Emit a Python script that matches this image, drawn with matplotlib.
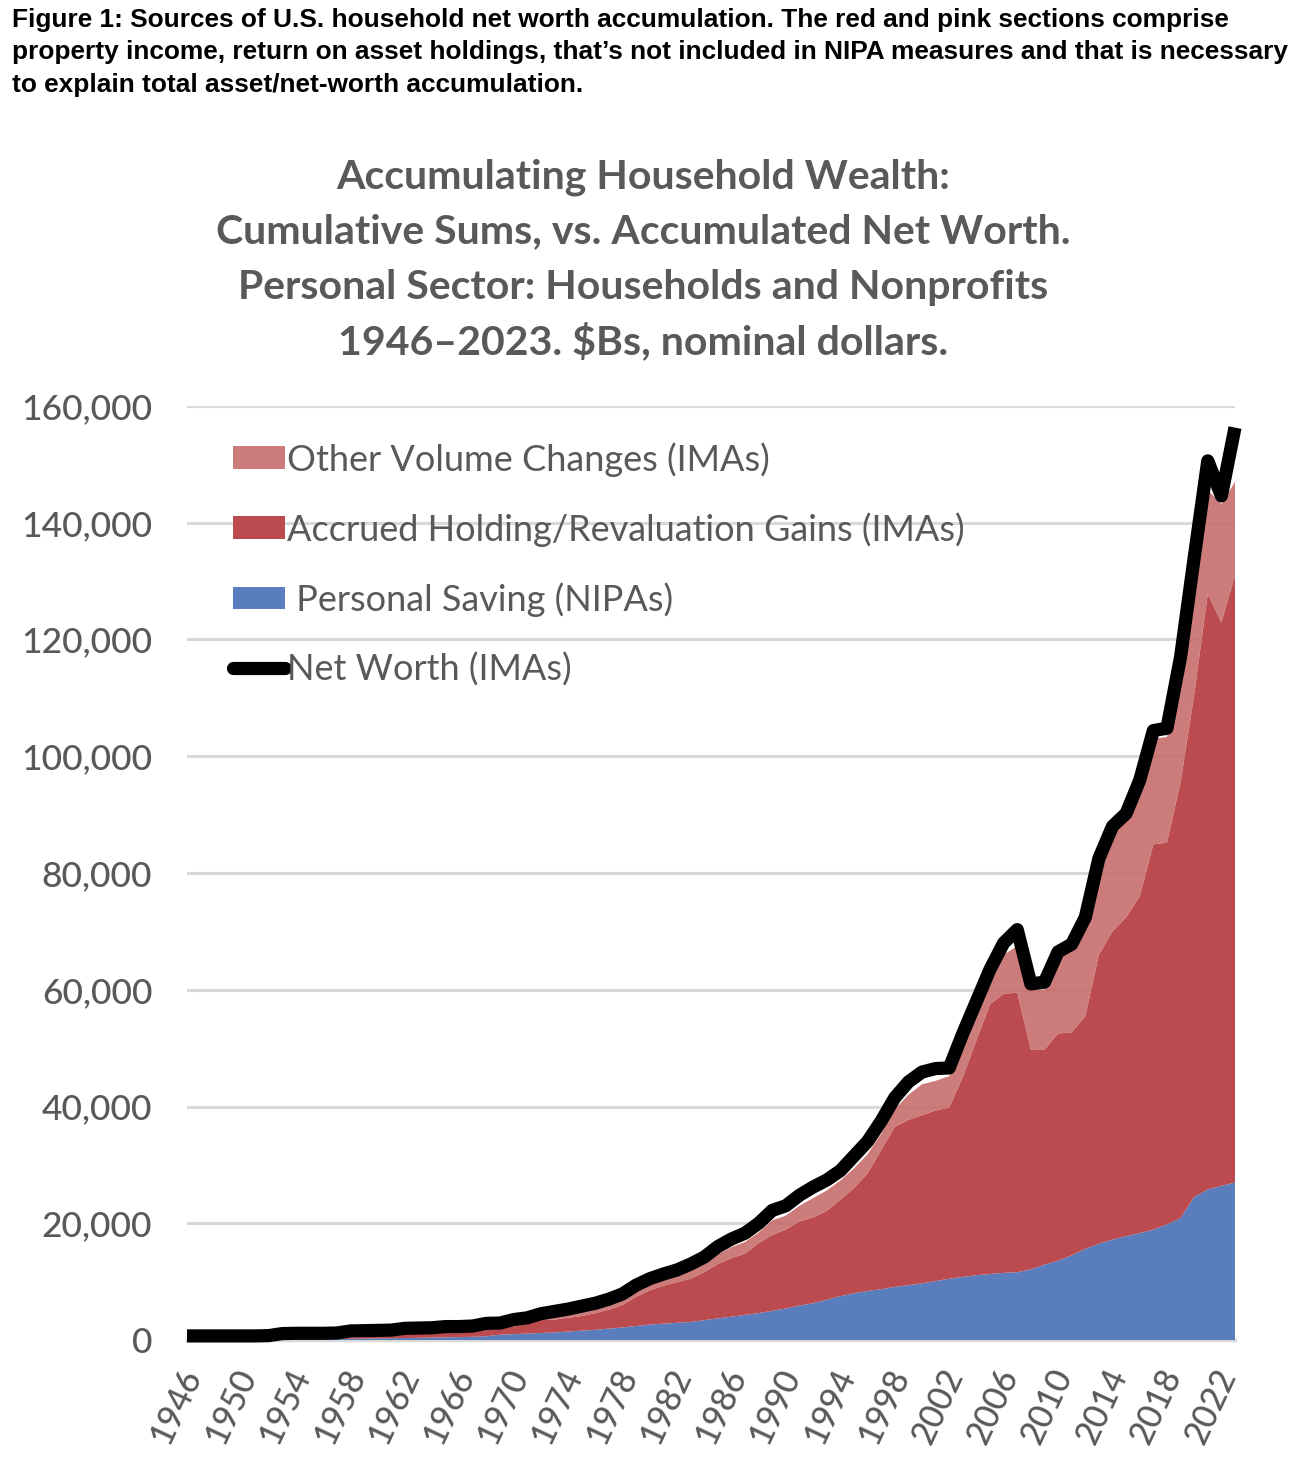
"""Accumulating household wealth: cumulative sums vs. accumulated net worth."""

import matplotlib

matplotlib.use("Agg")
import matplotlib.pyplot as plt
import matplotlib.transforms as mtransforms
from matplotlib.lines import Line2D
from matplotlib.patches import Patch


YEARS = list(range(1946, 2024))

# cumulative personal saving (NIPAs), $B
SAVING = [
    15, 30, 45, 60, 75, 90, 105, 120, 135, 150,
    170, 190, 210, 240, 270, 300, 330, 370, 410, 450,
    500, 550, 650, 900, 1000, 1100, 1200, 1300, 1450, 1600,
    1750, 1950, 2150, 2400, 2650, 2800, 2950, 3100, 3400, 3700,
    4000, 4300, 4600, 5000, 5400, 5900, 6300, 6900, 7500, 8000,
    8400, 8700, 9100, 9400, 9700, 10100, 10500, 10800, 11100, 11300,
    11500, 11600, 12100, 12900, 13600, 14500, 15600, 16500, 17200, 17800,
    18300, 18900, 19800, 20900, 24500, 25800, 26400, 27000,
]

# cumulative accrued holding / revaluation gains (IMAs), $B
GAINS = [
    5, 10, 15, 20, 25, 30, 35, 40, 45, 50,
    80, 110, 190, 260, 330, 500, 670, 730, 790, 850,
    850, 850, 1050, 1000, 1300, 1700, 2200, 2200, 2350, 2500,
    2850, 3250, 3850, 5000, 5850, 6500, 6950, 7400, 8200, 9300,
    10000, 10500, 12000, 13000, 13500, 14400, 14700, 15200, 16500, 18000,
    20100, 23800, 27400, 28300, 28800, 29200, 29300, 34200, 40200, 46200,
    47800, 47900, 37600, 36800, 38900, 38200, 39800, 49500, 52800, 54600,
    57700, 66000, 65400, 74600, 86000, 102000, 96500, 104000,
]

# cumulative other volume changes (IMAs), $B
OTHER = [
    630, 610, 590, 570, 550, 530, 560, 840, 870, 850,
    800, 800, 1000, 950, 900, 750, 800, 750, 700, 800,
    750, 800, 900, 750, 900, 700, 700, 900, 1000, 1100,
    1100, 1100, 1100, 1100, 1100, 1000, 1100, 1400, 1400, 1700,
    1900, 2000, 1800, 2500, 2400, 2700, 3300, 3500, 3300, 3400,
    3300, 2800, 3000, 4300, 5300, 5100, 5400, 5800, 4200, 3300,
    6700, 8000, 10300, 10300, 13000, 13800, 15600, 14500, 16500, 16400,
    18500, 18100, 18100, 20000, 19500, 17800, 20300, 16000,
]

# household net worth (IMAs), $B
NET_WORTH = [
    700, 700, 700, 700, 700, 700, 750, 1100, 1150, 1150,
    1150, 1200, 1550, 1600, 1650, 1700, 2000, 2050, 2100, 2300,
    2300, 2400, 2850, 2900, 3500, 3800, 4500, 4900, 5300, 5800,
    6300, 7000, 7900, 9400, 10500, 11300, 12000, 13000, 14200, 16000,
    17300, 18300, 20000, 22200, 23000, 24800, 26200, 27400, 29000, 31500,
    34000, 37500, 41500, 44200, 45900, 46500, 46600, 52500, 58000, 63500,
    68000, 70300, 61000, 61300, 66500, 67800, 72400, 82500, 88000, 90200,
    95900, 104400, 104800, 117000, 134000, 150600, 144600, 156300,
]

TICK_YEARS = list(range(1946, 2023, 4))
Y_TICKS = list(range(0, 160001, 20000))

LABELS = [
    "Other Volume Changes (IMAs)",
    "Accrued Holding/Revaluation Gains (IMAs)",
    " Personal Saving (NIPAs)",
    "Net Worth (IMAs)",
]

CAPTION = [
    "Figure 1: Sources of U.S. household net worth accumulation. The red and pink sections comprise",
    "property income, return on asset holdings, that\u2019s not included in NIPA measures and that is necessary",
    "to explain total asset/net-worth accumulation.",
]

TITLE = [
    "Accumulating Household Wealth:",
    "Cumulative Sums, vs. Accumulated Net Worth.",
    "Personal Sector: Households and Nonprofits",
    "1946\u20132023. $Bs, nominal dollars.",
]

BLUE = "#5a7ebd"
RED = "#bb4b4f"
PINK = "#c46664"
GREY_TEXT = "#595959"
GRID = "#d9d9d9"

W, H = 1308, 1464


def main() -> None:
    plt.rcParams["font.family"] = ["Lato", "DejaVu Sans"]

    fig = plt.figure(figsize=(W / 100, H / 100), dpi=100)

    for i, line in enumerate(CAPTION):
        fig.text(12 / W, 1 - (20 + i * 32.5) / H, line, ha="left", va="center",
                 fontsize=18.9, fontweight="bold", color="black",
                 family=["Liberation Sans", "DejaVu Sans"])

    for i, line in enumerate(TITLE):
        fig.text(643 / W, 1 - (177 + i * 55) / H, line, ha="center", va="center",
                 fontsize=29.5, fontweight="bold", color=GREY_TEXT)

    left, right, top, bottom = 187, 1235, 406, 1340
    ax = fig.add_axes([left / W, 1 - bottom / H, (right - left) / W, (bottom - top) / H])

    polys = ax.stackplot(YEARS, SAVING, GAINS, OTHER, colors=[BLUE, RED, PINK],
                         linewidth=0, zorder=2)
    polys[2].set_alpha(0.85)
    ax.plot(YEARS, NET_WORTH, color="black", lw=9.5, solid_joinstyle="round",
            solid_capstyle="butt", zorder=4, clip_on=False)

    ax.set_xlim(1946, 2023)
    ax.set_ylim(0, 160000)
    ax.set_yticks(Y_TICKS)
    ax.set_yticklabels([f"{v:,}" for v in Y_TICKS])
    ax.yaxis.grid(True, color=GRID, lw=2.2, zorder=0)
    ax.set_axisbelow(True)
    for side in ("top", "right", "left"):
        ax.spines[side].set_visible(False)
    ax.spines["bottom"].set_color(GRID)
    ax.spines["bottom"].set_linewidth(2.5)
    ax.spines["bottom"].set_zorder(1)

    ax.tick_params(axis="y", length=0, pad=25, labelsize=25.5, labelcolor=GREY_TEXT)
    ax.tick_params(axis="x", length=0, pad=22, labelsize=24.5, labelcolor=GREY_TEXT)
    for lab in ax.get_yticklabels():
        lab.set_fontweight("medium")

    ax.set_xticks(TICK_YEARS)
    ax.set_xticklabels([str(y) for y in TICK_YEARS], rotation=65, ha="right",
                       va="center", rotation_mode="anchor", fontweight="medium")
    shift = mtransforms.ScaledTranslation(6 / 100, 0, fig.dpi_scale_trans)
    for lab in ax.get_xticklabels():
        lab.set_transform(lab.get_transform() + shift)

    handles = [
        Patch(facecolor=PINK, alpha=0.85, edgecolor="none"),
        Patch(facecolor=RED, edgecolor="none"),
        Patch(facecolor=BLUE, edgecolor="none"),
        Line2D([0], [0], color="black", lw=9.5, solid_capstyle="round"),
    ]
    leg = ax.legend(handles, LABELS, loc="upper left",
                    bbox_to_anchor=((233 - left) / (right - left), (bottom - 442) / (bottom - top)),
                    frameon=False, fontsize=26, labelcolor=GREY_TEXT,
                    handlelength=1.45, handleheight=0.6, handletextpad=0.05,
                    labelspacing=0.98, borderaxespad=0, borderpad=0)
    leg.set_zorder(5)

    fig.savefig("out.png", dpi=100)


if __name__ == "__main__":
    main()
